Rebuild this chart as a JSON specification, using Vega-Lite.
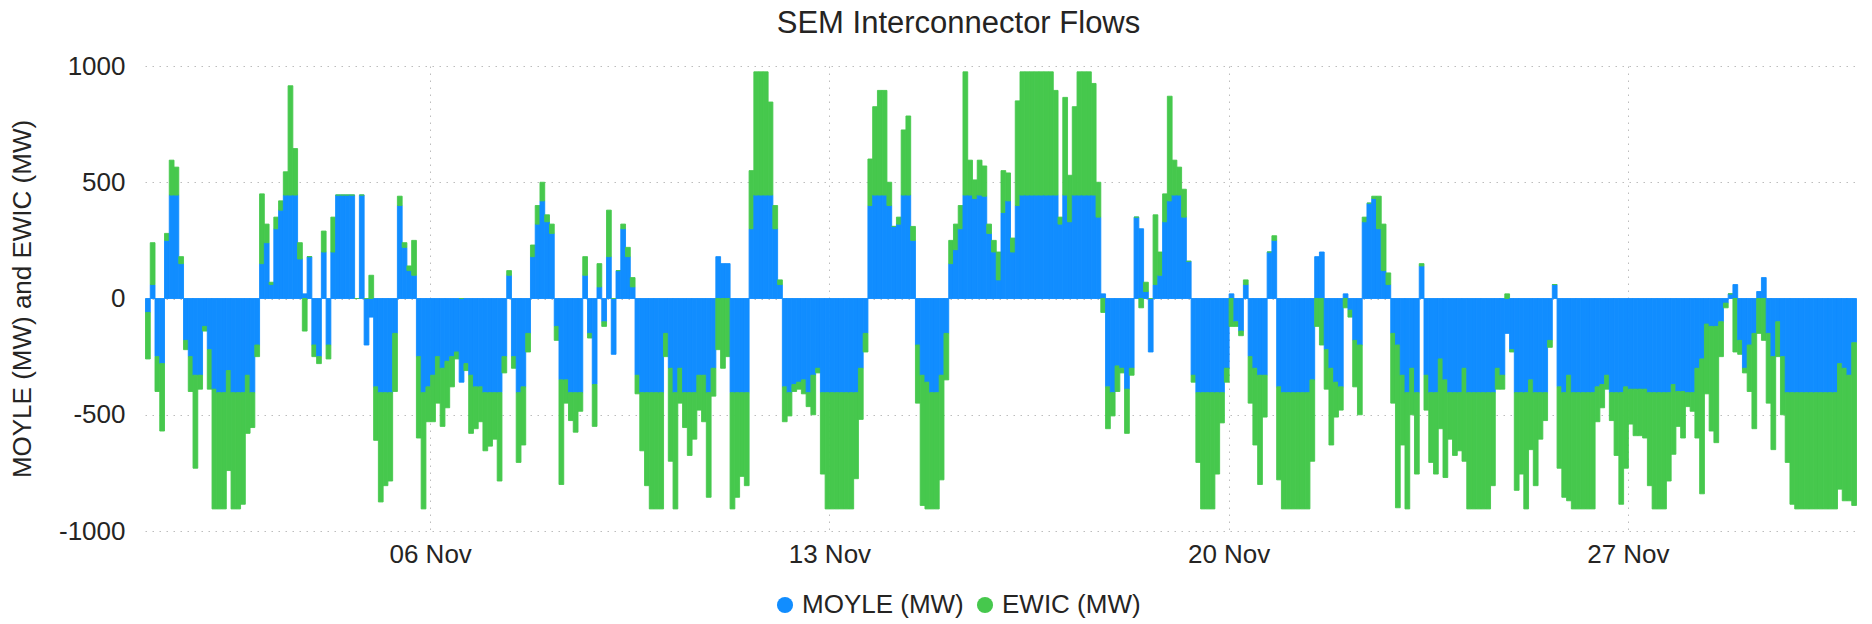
{
"$schema":"https://vega.github.io/schema/vega-lite/v6.json",
"width":1711,"height":465,
"autosize":{"type":"none"},
"padding":{"left":145,"top":66,"right":16,"bottom":93},
"background":"white",
"config":{"font":"Liberation Sans","view":{"stroke":null}},
"title":{"text":"SEM Interconnector Flows","anchor":"middle","dx":-42,"offset":13,"fontSize":31,"fontWeight":"normal","color":"#252423"},
"data":{"values":[
{"t":"2022-11-01T00:00","m":-60,"e":-200},{"t":"2022-11-01T02:00","m":60,"e":180},{"t":"2022-11-01T04:00","m":-250,"e":-150},{"t":"2022-11-01T06:00","m":-280,"e":-290},{"t":"2022-11-01T08:00","m":250,"e":30},{"t":"2022-11-01T10:00","m":445,"e":150},{"t":"2022-11-01T12:00","m":445,"e":120},{"t":"2022-11-01T14:00","m":150,"e":30},{"t":"2022-11-01T16:00","m":-180,"e":-40},{"t":"2022-11-01T18:00","m":-250,"e":-150},{"t":"2022-11-01T20:00","m":-330,"e":-400},{"t":"2022-11-01T22:00","m":-330,"e":-60},
{"t":"2022-11-02T00:00","m":-120,"e":-20},{"t":"2022-11-02T02:00","m":-220,"e":-170},{"t":"2022-11-02T04:00","m":-390,"e":-515},{"t":"2022-11-02T06:00","m":-405,"e":-500},{"t":"2022-11-02T08:00","m":-405,"e":-500},{"t":"2022-11-02T10:00","m":-310,"e":-430},{"t":"2022-11-02T12:00","m":-405,"e":-500},{"t":"2022-11-02T14:00","m":-405,"e":-500},{"t":"2022-11-02T16:00","m":-405,"e":-480},{"t":"2022-11-02T18:00","m":-330,"e":-250},{"t":"2022-11-02T20:00","m":-405,"e":-150},{"t":"2022-11-02T22:00","m":-200,"e":-50},
{"t":"2022-11-03T00:00","m":150,"e":300},{"t":"2022-11-03T02:00","m":240,"e":80},{"t":"2022-11-03T04:00","m":60,"e":10},{"t":"2022-11-03T06:00","m":300,"e":50},{"t":"2022-11-03T08:00","m":380,"e":40},{"t":"2022-11-03T10:00","m":445,"e":100},{"t":"2022-11-03T12:00","m":445,"e":470},{"t":"2022-11-03T14:00","m":445,"e":200},{"t":"2022-11-03T16:00","m":170,"e":70},{"t":"2022-11-03T18:00","m":20,"e":-140},{"t":"2022-11-03T20:00","m":180,"e":0},{"t":"2022-11-03T22:00","m":-200,"e":-50},
{"t":"2022-11-04T00:00","m":-250,"e":-30},{"t":"2022-11-04T02:00","m":200,"e":90},{"t":"2022-11-04T04:00","m":-200,"e":-60},{"t":"2022-11-04T06:00","m":200,"e":150},{"t":"2022-11-04T08:00","m":445,"e":0},{"t":"2022-11-04T10:00","m":445,"e":0},{"t":"2022-11-04T12:00","m":445,"e":0},{"t":"2022-11-04T14:00","m":445,"e":0},{"t":"2022-11-04T16:00","m":0,"e":0},{"t":"2022-11-04T18:00","m":445,"e":0},{"t":"2022-11-04T20:00","m":-200,"e":0},{"t":"2022-11-04T22:00","m":-80,"e":100},
{"t":"2022-11-05T00:00","m":-380,"e":-230},{"t":"2022-11-05T02:00","m":-405,"e":-470},{"t":"2022-11-05T04:00","m":-405,"e":-400},{"t":"2022-11-05T06:00","m":-405,"e":-380},{"t":"2022-11-05T08:00","m":-150,"e":-250},{"t":"2022-11-05T10:00","m":400,"e":40},{"t":"2022-11-05T12:00","m":220,"e":20},{"t":"2022-11-05T14:00","m":120,"e":20},{"t":"2022-11-05T16:00","m":100,"e":150},{"t":"2022-11-05T18:00","m":-250,"e":-350},{"t":"2022-11-05T20:00","m":-405,"e":-500},{"t":"2022-11-05T22:00","m":-380,"e":-150},
{"t":"2022-11-06T00:00","m":-330,"e":-200},{"t":"2022-11-06T02:00","m":-250,"e":-200},{"t":"2022-11-06T04:00","m":-300,"e":-250},{"t":"2022-11-06T06:00","m":-270,"e":-200},{"t":"2022-11-06T08:00","m":-250,"e":-130},{"t":"2022-11-06T10:00","m":-230,"e":-30},{"t":"2022-11-06T12:00","m":-360,"e":0},{"t":"2022-11-06T14:00","m":-280,"e":-30},{"t":"2022-11-06T16:00","m":-330,"e":-250},{"t":"2022-11-06T18:00","m":-380,"e":-180},{"t":"2022-11-06T20:00","m":-380,"e":-150},{"t":"2022-11-06T22:00","m":-405,"e":-250},
{"t":"2022-11-07T00:00","m":-405,"e":-230},{"t":"2022-11-07T02:00","m":-405,"e":-200},{"t":"2022-11-07T04:00","m":-405,"e":-380},{"t":"2022-11-07T06:00","m":-250,"e":-70},{"t":"2022-11-07T08:00","m":100,"e":20},{"t":"2022-11-07T10:00","m":-250,"e":-50},{"t":"2022-11-07T12:00","m":-405,"e":-300},{"t":"2022-11-07T14:00","m":-380,"e":-250},{"t":"2022-11-07T16:00","m":-150,"e":-80},{"t":"2022-11-07T18:00","m":180,"e":50},{"t":"2022-11-07T20:00","m":320,"e":80},{"t":"2022-11-07T22:00","m":420,"e":80},
{"t":"2022-11-08T00:00","m":330,"e":30},{"t":"2022-11-08T02:00","m":280,"e":40},{"t":"2022-11-08T04:00","m":-120,"e":-60},{"t":"2022-11-08T06:00","m":-350,"e":-450},{"t":"2022-11-08T08:00","m":-350,"e":-100},{"t":"2022-11-08T10:00","m":-405,"e":-120},{"t":"2022-11-08T12:00","m":-405,"e":-170},{"t":"2022-11-08T14:00","m":-405,"e":-80},{"t":"2022-11-08T16:00","m":100,"e":80},{"t":"2022-11-08T18:00","m":-150,"e":-20},{"t":"2022-11-08T20:00","m":-370,"e":-180},{"t":"2022-11-08T22:00","m":50,"e":100},
{"t":"2022-11-09T00:00","m":-100,"e":-20},{"t":"2022-11-09T02:00","m":180,"e":200},{"t":"2022-11-09T04:00","m":-240,"e":0},{"t":"2022-11-09T06:00","m":120,"e":0},{"t":"2022-11-09T08:00","m":300,"e":20},{"t":"2022-11-09T10:00","m":180,"e":40},{"t":"2022-11-09T12:00","m":50,"e":40},{"t":"2022-11-09T14:00","m":-330,"e":-80},{"t":"2022-11-09T16:00","m":-405,"e":-250},{"t":"2022-11-09T18:00","m":-405,"e":-400},{"t":"2022-11-09T20:00","m":-405,"e":-500},{"t":"2022-11-09T22:00","m":-405,"e":-500},
{"t":"2022-11-10T00:00","m":-405,"e":-500},{"t":"2022-11-10T02:00","m":-150,"e":-100},{"t":"2022-11-10T04:00","m":-300,"e":-400},{"t":"2022-11-10T06:00","m":-405,"e":-500},{"t":"2022-11-10T08:00","m":-300,"e":-150},{"t":"2022-11-10T10:00","m":-405,"e":-150},{"t":"2022-11-10T12:00","m":-405,"e":-270},{"t":"2022-11-10T14:00","m":-405,"e":-200},{"t":"2022-11-10T16:00","m":-330,"e":-150},{"t":"2022-11-10T18:00","m":-330,"e":-200},{"t":"2022-11-10T20:00","m":-405,"e":-450},{"t":"2022-11-10T22:00","m":-300,"e":-120},
{"t":"2022-11-11T00:00","m":180,"e":-220},{"t":"2022-11-11T02:00","m":150,"e":-300},{"t":"2022-11-11T04:00","m":150,"e":-250},{"t":"2022-11-11T06:00","m":-405,"e":-500},{"t":"2022-11-11T08:00","m":-405,"e":-450},{"t":"2022-11-11T10:00","m":-405,"e":-360},{"t":"2022-11-11T12:00","m":-405,"e":-400},{"t":"2022-11-11T14:00","m":300,"e":250},{"t":"2022-11-11T16:00","m":445,"e":530},{"t":"2022-11-11T18:00","m":445,"e":530},{"t":"2022-11-11T20:00","m":445,"e":530},{"t":"2022-11-11T22:00","m":445,"e":400},
{"t":"2022-11-12T00:00","m":300,"e":100},{"t":"2022-11-12T02:00","m":60,"e":20},{"t":"2022-11-12T04:00","m":-380,"e":-150},{"t":"2022-11-12T06:00","m":-405,"e":-100},{"t":"2022-11-12T08:00","m":-370,"e":-30},{"t":"2022-11-12T10:00","m":-360,"e":-30},{"t":"2022-11-12T12:00","m":-350,"e":-60},{"t":"2022-11-12T14:00","m":-405,"e":-60},{"t":"2022-11-12T16:00","m":-330,"e":-170},{"t":"2022-11-12T18:00","m":-300,"e":-20},{"t":"2022-11-12T20:00","m":-405,"e":-350},{"t":"2022-11-12T22:00","m":-405,"e":-500},
{"t":"2022-11-13T00:00","m":-405,"e":-500},{"t":"2022-11-13T02:00","m":-405,"e":-500},{"t":"2022-11-13T04:00","m":-405,"e":-500},{"t":"2022-11-13T06:00","m":-405,"e":-500},{"t":"2022-11-13T08:00","m":-405,"e":-500},{"t":"2022-11-13T10:00","m":-405,"e":-370},{"t":"2022-11-13T12:00","m":-300,"e":-220},{"t":"2022-11-13T14:00","m":-150,"e":-80},{"t":"2022-11-13T16:00","m":400,"e":200},{"t":"2022-11-13T18:00","m":445,"e":380},{"t":"2022-11-13T20:00","m":445,"e":450},{"t":"2022-11-13T22:00","m":445,"e":450},
{"t":"2022-11-14T00:00","m":400,"e":100},{"t":"2022-11-14T02:00","m":310,"e":0},{"t":"2022-11-14T04:00","m":320,"e":30},{"t":"2022-11-14T06:00","m":445,"e":280},{"t":"2022-11-14T08:00","m":445,"e":340},{"t":"2022-11-14T10:00","m":250,"e":60},{"t":"2022-11-14T12:00","m":-200,"e":-250},{"t":"2022-11-14T14:00","m":-330,"e":-560},{"t":"2022-11-14T16:00","m":-360,"e":-545},{"t":"2022-11-14T18:00","m":-405,"e":-500},{"t":"2022-11-14T20:00","m":-405,"e":-500},{"t":"2022-11-14T22:00","m":-330,"e":-450},
{"t":"2022-11-15T00:00","m":-150,"e":-200},{"t":"2022-11-15T02:00","m":150,"e":100},{"t":"2022-11-15T04:00","m":210,"e":110},{"t":"2022-11-15T06:00","m":300,"e":100},{"t":"2022-11-15T08:00","m":445,"e":530},{"t":"2022-11-15T10:00","m":445,"e":150},{"t":"2022-11-15T12:00","m":430,"e":80},{"t":"2022-11-15T14:00","m":445,"e":150},{"t":"2022-11-15T16:00","m":440,"e":130},{"t":"2022-11-15T18:00","m":280,"e":40},{"t":"2022-11-15T20:00","m":200,"e":50},{"t":"2022-11-15T22:00","m":80,"e":120},
{"t":"2022-11-16T00:00","m":370,"e":180},{"t":"2022-11-16T02:00","m":420,"e":120},{"t":"2022-11-16T04:00","m":200,"e":60},{"t":"2022-11-16T06:00","m":400,"e":450},{"t":"2022-11-16T08:00","m":445,"e":530},{"t":"2022-11-16T10:00","m":445,"e":530},{"t":"2022-11-16T12:00","m":445,"e":530},{"t":"2022-11-16T14:00","m":445,"e":530},{"t":"2022-11-16T16:00","m":445,"e":530},{"t":"2022-11-16T18:00","m":445,"e":530},{"t":"2022-11-16T20:00","m":445,"e":530},{"t":"2022-11-16T22:00","m":445,"e":450},
{"t":"2022-11-17T00:00","m":320,"e":30},{"t":"2022-11-17T02:00","m":445,"e":420},{"t":"2022-11-17T04:00","m":330,"e":200},{"t":"2022-11-17T06:00","m":445,"e":380},{"t":"2022-11-17T08:00","m":445,"e":530},{"t":"2022-11-17T10:00","m":445,"e":530},{"t":"2022-11-17T12:00","m":445,"e":530},{"t":"2022-11-17T14:00","m":445,"e":480},{"t":"2022-11-17T16:00","m":350,"e":150},{"t":"2022-11-17T18:00","m":20,"e":-60},{"t":"2022-11-17T20:00","m":-380,"e":-180},{"t":"2022-11-17T22:00","m":-405,"e":-100},
{"t":"2022-11-18T00:00","m":-290,"e":-110},{"t":"2022-11-18T02:00","m":-300,"e":-20},{"t":"2022-11-18T04:00","m":-390,"e":-190},{"t":"2022-11-18T06:00","m":-300,"e":-30},{"t":"2022-11-18T08:00","m":350,"e":0},{"t":"2022-11-18T10:00","m":300,"e":-40},{"t":"2022-11-18T12:00","m":30,"e":40},{"t":"2022-11-18T14:00","m":-230,"e":0},{"t":"2022-11-18T16:00","m":60,"e":300},{"t":"2022-11-18T18:00","m":100,"e":100},{"t":"2022-11-18T20:00","m":330,"e":120},{"t":"2022-11-18T22:00","m":420,"e":450},
{"t":"2022-11-19T00:00","m":445,"e":150},{"t":"2022-11-19T02:00","m":445,"e":120},{"t":"2022-11-19T04:00","m":350,"e":120},{"t":"2022-11-19T06:00","m":160,"e":0},{"t":"2022-11-19T08:00","m":-330,"e":-30},{"t":"2022-11-19T10:00","m":-405,"e":-300},{"t":"2022-11-19T12:00","m":-405,"e":-500},{"t":"2022-11-19T14:00","m":-405,"e":-500},{"t":"2022-11-19T16:00","m":-405,"e":-500},{"t":"2022-11-19T18:00","m":-405,"e":-350},{"t":"2022-11-19T20:00","m":-405,"e":-130},{"t":"2022-11-19T22:00","m":-300,"e":-60},
{"t":"2022-11-20T00:00","m":20,"e":-120},{"t":"2022-11-20T02:00","m":-100,"e":-20},{"t":"2022-11-20T04:00","m":-140,"e":-20},{"t":"2022-11-20T06:00","m":60,"e":20},{"t":"2022-11-20T08:00","m":-250,"e":-200},{"t":"2022-11-20T10:00","m":-300,"e":-330},{"t":"2022-11-20T12:00","m":-330,"e":-470},{"t":"2022-11-20T14:00","m":-330,"e":-180},{"t":"2022-11-20T16:00","m":200,"e":0},{"t":"2022-11-20T18:00","m":250,"e":20},{"t":"2022-11-20T20:00","m":-380,"e":-400},{"t":"2022-11-20T22:00","m":-405,"e":-500},
{"t":"2022-11-21T00:00","m":-405,"e":-500},{"t":"2022-11-21T02:00","m":-405,"e":-500},{"t":"2022-11-21T04:00","m":-405,"e":-500},{"t":"2022-11-21T06:00","m":-405,"e":-500},{"t":"2022-11-21T08:00","m":-405,"e":-500},{"t":"2022-11-21T10:00","m":-350,"e":-350},{"t":"2022-11-21T12:00","m":180,"e":-120},{"t":"2022-11-21T14:00","m":200,"e":-200},{"t":"2022-11-21T16:00","m":-220,"e":-170},{"t":"2022-11-21T18:00","m":-300,"e":-330},{"t":"2022-11-21T20:00","m":-360,"e":-150},{"t":"2022-11-21T22:00","m":-380,"e":-100},
{"t":"2022-11-22T00:00","m":20,"e":-40},{"t":"2022-11-22T02:00","m":-50,"e":-30},{"t":"2022-11-22T04:00","m":-180,"e":-200},{"t":"2022-11-22T06:00","m":-200,"e":-300},{"t":"2022-11-22T08:00","m":330,"e":20},{"t":"2022-11-22T10:00","m":410,"e":0},{"t":"2022-11-22T12:00","m":430,"e":10},{"t":"2022-11-22T14:00","m":300,"e":140},{"t":"2022-11-22T16:00","m":120,"e":200},{"t":"2022-11-22T18:00","m":60,"e":50},{"t":"2022-11-22T20:00","m":-150,"e":-300},{"t":"2022-11-22T22:00","m":-200,"e":-700},
{"t":"2022-11-23T00:00","m":-330,"e":-300},{"t":"2022-11-23T02:00","m":-405,"e":-500},{"t":"2022-11-23T04:00","m":-300,"e":-200},{"t":"2022-11-23T06:00","m":-405,"e":-350},{"t":"2022-11-23T08:00","m":140,"e":10},{"t":"2022-11-23T10:00","m":-330,"e":-150},{"t":"2022-11-23T12:00","m":-405,"e":-300},{"t":"2022-11-23T14:00","m":-405,"e":-350},{"t":"2022-11-23T16:00","m":-260,"e":-300},{"t":"2022-11-23T18:00","m":-350,"e":-420},{"t":"2022-11-23T20:00","m":-405,"e":-200},{"t":"2022-11-23T22:00","m":-405,"e":-270},
{"t":"2022-11-24T00:00","m":-405,"e":-250},{"t":"2022-11-24T02:00","m":-300,"e":-400},{"t":"2022-11-24T04:00","m":-405,"e":-500},{"t":"2022-11-24T06:00","m":-405,"e":-500},{"t":"2022-11-24T08:00","m":-405,"e":-500},{"t":"2022-11-24T10:00","m":-405,"e":-500},{"t":"2022-11-24T12:00","m":-405,"e":-500},{"t":"2022-11-24T14:00","m":-405,"e":-400},{"t":"2022-11-24T16:00","m":-300,"e":-90},{"t":"2022-11-24T18:00","m":-330,"e":-60},{"t":"2022-11-24T20:00","m":-150,"e":20},{"t":"2022-11-24T22:00","m":-220,"e":-10},
{"t":"2022-11-25T00:00","m":-405,"e":-420},{"t":"2022-11-25T02:00","m":-405,"e":-350},{"t":"2022-11-25T04:00","m":-405,"e":-500},{"t":"2022-11-25T06:00","m":-350,"e":-300},{"t":"2022-11-25T08:00","m":-405,"e":-400},{"t":"2022-11-25T10:00","m":-405,"e":-200},{"t":"2022-11-25T12:00","m":-405,"e":-120},{"t":"2022-11-25T14:00","m":-180,"e":-30},{"t":"2022-11-25T16:00","m":60,"e":0},{"t":"2022-11-25T18:00","m":-380,"e":-350},{"t":"2022-11-25T20:00","m":-405,"e":-450},{"t":"2022-11-25T22:00","m":-330,"e":-540},
{"t":"2022-11-26T00:00","m":-405,"e":-500},{"t":"2022-11-26T02:00","m":-405,"e":-500},{"t":"2022-11-26T04:00","m":-405,"e":-500},{"t":"2022-11-26T06:00","m":-405,"e":-500},{"t":"2022-11-26T08:00","m":-405,"e":-500},{"t":"2022-11-26T10:00","m":-380,"e":-150},{"t":"2022-11-26T12:00","m":-370,"e":-100},{"t":"2022-11-26T14:00","m":-330,"e":-60},{"t":"2022-11-26T16:00","m":-405,"e":-120},{"t":"2022-11-26T18:00","m":-405,"e":-270},{"t":"2022-11-26T20:00","m":-405,"e":-480},{"t":"2022-11-26T22:00","m":-380,"e":-350},
{"t":"2022-11-27T00:00","m":-390,"e":-150},{"t":"2022-11-27T02:00","m":-390,"e":-200},{"t":"2022-11-27T04:00","m":-390,"e":-200},{"t":"2022-11-27T06:00","m":-390,"e":-210},{"t":"2022-11-27T08:00","m":-405,"e":-400},{"t":"2022-11-27T10:00","m":-405,"e":-500},{"t":"2022-11-27T12:00","m":-405,"e":-500},{"t":"2022-11-27T14:00","m":-405,"e":-500},{"t":"2022-11-27T16:00","m":-405,"e":-380},{"t":"2022-11-27T18:00","m":-370,"e":-300},{"t":"2022-11-27T20:00","m":-400,"e":-150},{"t":"2022-11-27T22:00","m":-400,"e":-200},
{"t":"2022-11-28T00:00","m":-405,"e":-60},{"t":"2022-11-28T02:00","m":-405,"e":-80},{"t":"2022-11-28T04:00","m":-300,"e":-300},{"t":"2022-11-28T06:00","m":-260,"e":-580},{"t":"2022-11-28T08:00","m":-110,"e":-300},{"t":"2022-11-28T10:00","m":-120,"e":-450},{"t":"2022-11-28T12:00","m":-120,"e":-500},{"t":"2022-11-28T14:00","m":-100,"e":-150},{"t":"2022-11-28T16:00","m":-20,"e":-20},{"t":"2022-11-28T18:00","m":20,"e":0},{"t":"2022-11-28T20:00","m":60,"e":-230},{"t":"2022-11-28T22:00","m":-180,"e":-60},
{"t":"2022-11-29T00:00","m":-300,"e":-20},{"t":"2022-11-29T02:00","m":-200,"e":-200},{"t":"2022-11-29T04:00","m":-150,"e":-410},{"t":"2022-11-29T06:00","m":30,"e":-150},{"t":"2022-11-29T08:00","m":90,"e":-180},{"t":"2022-11-29T10:00","m":-150,"e":-300},{"t":"2022-11-29T12:00","m":-250,"e":-400},{"t":"2022-11-29T14:00","m":-100,"e":-150},{"t":"2022-11-29T16:00","m":-250,"e":-250},{"t":"2022-11-29T18:00","m":-405,"e":-300},{"t":"2022-11-29T20:00","m":-405,"e":-480},{"t":"2022-11-29T22:00","m":-405,"e":-500},
{"t":"2022-11-30T00:00","m":-405,"e":-500},{"t":"2022-11-30T02:00","m":-405,"e":-500},{"t":"2022-11-30T04:00","m":-405,"e":-500},{"t":"2022-11-30T06:00","m":-405,"e":-500},{"t":"2022-11-30T08:00","m":-405,"e":-500},{"t":"2022-11-30T10:00","m":-405,"e":-500},{"t":"2022-11-30T12:00","m":-405,"e":-500},{"t":"2022-11-30T14:00","m":-405,"e":-500},{"t":"2022-11-30T16:00","m":-280,"e":-540},{"t":"2022-11-30T18:00","m":-300,"e":-570},{"t":"2022-11-30T20:00","m":-330,"e":-540},{"t":"2022-11-30T22:00","m":-190,"e":-700}
]},
"transform":[{"fold":["m","e"],"as":["k","v"]}],
"mark":{"type":"bar","binSpacing":0,"strokeWidth":0.9},
"encoding":{
"x":{"field":"t","type":"temporal","timeUnit":{"unit":"yearmonthdatehours","step":2},
"scale":{"domain":[{"year":2022,"month":11,"date":1},{"year":2022,"month":12,"date":1}]},
"axis":{"title":null,"values":[{"year":2022,"month":11,"date":6},{"year":2022,"month":11,"date":13},{"year":2022,"month":11,"date":20},{"year":2022,"month":11,"date":27}],"format":"%d %b","formatType":"time","grid":true,"gridDash":[1.5,5.5],"gridColor":"#bdbdbd","ticks":false,"domain":false,"labelFontSize":26,"labelColor":"#252423","labelPadding":10}},
"y":{"field":"v","type":"quantitative","stack":"zero","scale":{"domain":[-1000,1000],"nice":false},
"axis":{"title":"MOYLE (MW) and EWIC (MW)","values":[-1000,-500,0,500,1000],"labelExpr":"'' + datum.value","grid":true,"gridDash":[1.5,5.5],"gridColor":"#bdbdbd","ticks":false,"domain":false,"labelFontSize":26,"labelColor":"#252423","labelPadding":20,"titleFontSize":26,"titleFontWeight":"normal","titleColor":"#252423","titlePadding":23}},
"color":{"field":"k","type":"nominal","scale":{"domain":["m","e"],"range":["#118dff","#46c84d"]},
"legend":{"orient":"none","legendX":627,"legendY":526,"direction":"horizontal","title":null,"symbolType":"circle","symbolSize":260,"symbolStrokeWidth":0,"labelFontSize":26,"labelLimit":400,"labelColor":"#252423","labelOffset":4,"columnPadding":8,"labelExpr":"datum.value == 'm' ? 'MOYLE (MW)' : 'EWIC (MW)'"}},
"stroke":{"field":"k","type":"nominal","scale":{"domain":["m","e"],"range":["#118dff","#46c84d"]},"legend":null},
"order":{"field":"k","sort":"descending"}
}
}
